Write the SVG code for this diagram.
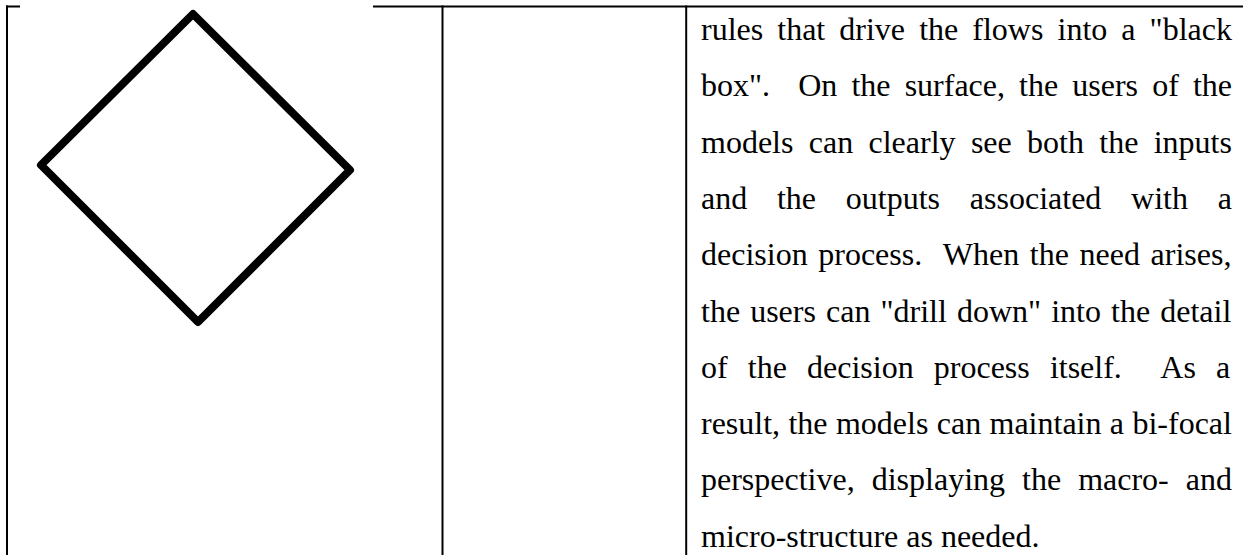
<svg xmlns="http://www.w3.org/2000/svg" width="1243" height="555" viewBox="0 0 1243 555">
<style>
.rule{stroke:#000;stroke-width:2;fill:none}
.body{font-family:"Liberation Serif","Times New Roman",serif;font-size:32px;fill:#000}
</style>
<rect width="1243" height="555" fill="#fff"/>
<g id="table">
<line class="rule" x1="6" y1="6.5" x2="20" y2="6.5"/>
<line class="rule" x1="373" y1="6.5" x2="1243" y2="6.5"/>
<line class="rule" x1="7" y1="5.5" x2="7" y2="555"/>
<line class="rule" x1="442.5" y1="5.5" x2="442.5" y2="555"/>
<line class="rule" x1="686.2" y1="5.5" x2="686.2" y2="555"/>
</g>
<g id="diamond">
<polygon points="193,14 350,170 198,322 41,165" fill="none" stroke="#000" stroke-width="8" stroke-linejoin="round"/>
</g>
<g id="text" class="body">
<text x="701" y="40" word-spacing="6.07">rules that drive the flows into a "black</text>
<text x="701" y="96.3" word-spacing="6.09">box".&#160; On the surface, the users of the</text>
<text x="701" y="152.6" word-spacing="7.33">models can clearly see both the inputs</text>
<text x="701" y="208.9" word-spacing="21.77">and the outputs associated with a</text>
<text x="701" y="265.2" word-spacing="2.6">decision process.&#160; When the need arises,</text>
<text x="701" y="321.5" word-spacing="2.07">the users can "drill down" into the detail</text>
<text x="701" y="377.8" word-spacing="12.13">of the decision process itself.&#160; As a</text>
<text x="701" y="434.1" word-spacing="0.37">result, the models can maintain a bi-focal</text>
<text x="701" y="490.4" word-spacing="9">perspective, displaying the macro- and</text>
<text x="701" y="546.7">micro-structure as needed.</text>
</g>
</svg>
